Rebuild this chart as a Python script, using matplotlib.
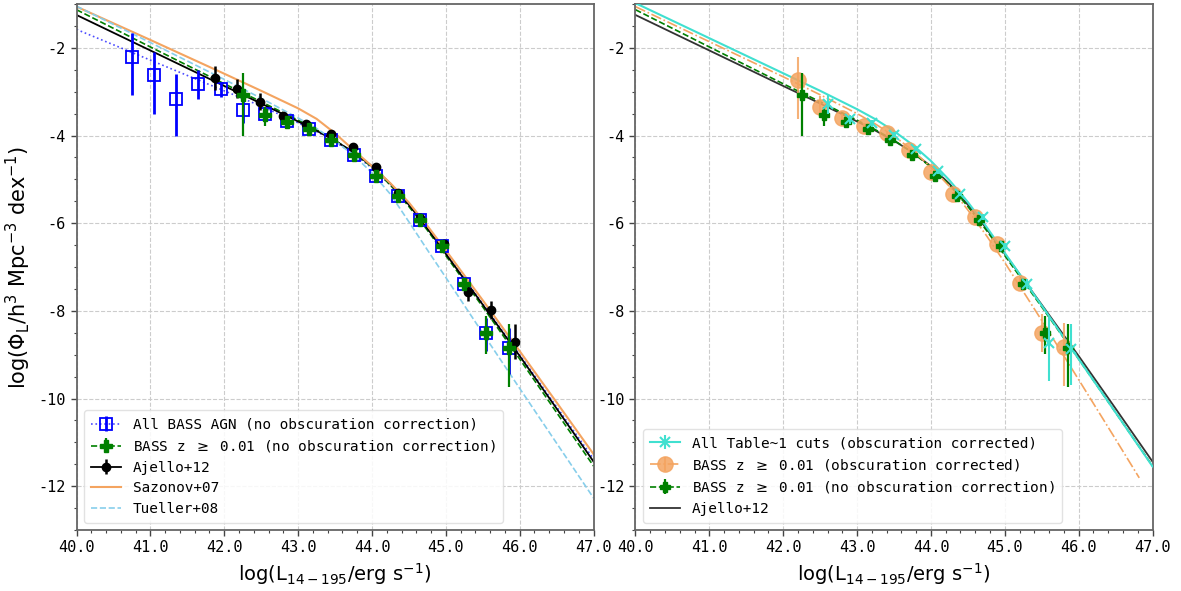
import matplotlib
matplotlib.use("Agg")
import matplotlib.pyplot as plt
from matplotlib.ticker import MultipleLocator, FormatStrFormatter
from matplotlib.legend_handler import HandlerTuple

plt.rcParams['axes.unicode_minus'] = False
plt.rcParams['font.family'] = ['DejaVu Sans Mono', 'DejaVu Sans']
plt.rcParams['mathtext.fontset'] = 'dejavusans'

# ---------------- data ----------------
# model curves (luminosity grid, log Phi)
L_grid = [40.0, 41.0, 42.0, 42.5, 43.0, 43.25, 43.5, 43.75, 44.0, 44.25, 44.5, 44.75, 45.0, 45.5, 46.0, 46.5, 47.0]
ajello_fit = [-1.25, -2.06, -2.87, -3.27, -3.68, -3.89, -4.12, -4.38, -4.70, -5.10, -5.58, -6.12, -6.70, -7.86, -9.03, -10.23, -11.44]
bass_z_fit = [-1.13, -1.98, -2.82, -3.23, -3.65, -3.87, -4.11, -4.39, -4.72, -5.13, -5.62, -6.16, -6.74, -7.91, -9.10, -10.32, -11.54]
bass_all_fit = [-1.58, -2.28, -2.98, -3.33, -3.71, -3.91, -4.14, -4.42, -4.74, -5.13, -5.60, -6.13, -6.68, -7.84, -9.00, -10.19, -11.38]
sazonov_fit = [-1.06, -1.82, -2.59, -2.98, -3.38, -3.62, -3.95, -4.33, -4.70, -5.09, -5.53, -6.06, -6.62, -7.76, -8.92, -10.09, -11.27]
tueller_fit = [-1.05, -1.88, -2.72, -3.15, -3.60, -3.84, -4.12, -4.45, -4.85, -5.34, -5.97, -6.61, -7.24, -8.51, -9.77, -11.02, -12.27]
table1_fit = [-0.98, -1.78, -2.58, -2.98, -3.40, -3.63, -3.90, -4.21, -4.58, -5.02, -5.52, -6.08, -6.68, -7.88, -9.10, -10.32, -11.55]
L_grid_oc = [40.0, 41.0, 42.0, 42.5, 43.0, 43.25, 43.5, 43.75, 44.0, 44.25, 44.5, 44.75, 45.0, 45.5, 46.0, 46.5, 46.82]
bass_z_oc_fit = [-1.06, -1.86, -2.66, -3.07, -3.50, -3.74, -4.01, -4.34, -4.72, -5.16, -5.70, -6.28, -6.90, -8.22, -9.57, -10.93, -11.81]

# All BASS AGN (no obscuration correction)
L_all = [40.75, 41.05, 41.35, 41.65, 41.95, 42.25, 42.55, 42.85, 43.15, 43.45, 43.75, 44.05, 44.35, 44.65, 44.95, 45.25, 45.55, 45.85]
phi_all = [-2.21, -2.62, -3.16, -2.82, -2.93, -3.42, -3.50, -3.67, -3.84, -4.10, -4.44, -4.93, -5.37, -5.92, -6.53, -7.39, -8.51, -8.85]
phi_all_up = [0.54, 0.53, 0.56, 0.31, 0.15, 0.25, 0.12, 0.08, 0.06, 0.05, 0.05, 0.05, 0.05, 0.06, 0.08, 0.12, 0.35, 0.45]
phi_all_lo = [0.87, 0.88, 0.86, 0.35, 0.19, 0.30, 0.15, 0.09, 0.07, 0.05, 0.05, 0.05, 0.05, 0.06, 0.09, 0.14, 0.40, 0.60]

# BASS z >= 0.01 (no obscuration correction)
L_z = [42.25, 42.55, 42.85, 43.15, 43.45, 43.75, 44.05, 44.35, 44.65, 44.95, 45.25, 45.55, 45.85]
phi_z = [-3.08, -3.54, -3.69, -3.84, -4.11, -4.45, -4.93, -5.37, -5.92, -6.53, -7.39, -8.51, -8.85]
phi_z_up = [0.51, 0.19, 0.10, 0.08, 0.06, 0.05, 0.05, 0.05, 0.06, 0.08, 0.10, 0.40, 0.55]
phi_z_lo = [0.92, 0.25, 0.10, 0.08, 0.06, 0.05, 0.05, 0.05, 0.06, 0.08, 0.12, 0.48, 0.89]

# Ajello+12 points
L_aj = [41.87, 42.17, 42.48, 42.79, 43.11, 43.44, 43.74, 44.05, 44.35, 44.65, 44.97, 45.30, 45.61, 45.93]
phi_aj = [-2.69, -2.93, -3.23, -3.56, -3.73, -3.97, -4.26, -4.72, -5.32, -5.88, -6.47, -7.58, -7.98, -8.70]
phi_aj_err = [0.27, 0.21, 0.19, 0.10, 0.07, 0.07, 0.05, 0.05, 0.05, 0.06, 0.08, 0.19, 0.20, 0.40]

# BASS z >= 0.01 (obscuration corrected)
L_oc = [42.20, 42.50, 42.80, 43.10, 43.40, 43.70, 44.00, 44.30, 44.60, 44.90, 45.20, 45.50, 45.80]
phi_oc = [-2.74, -3.35, -3.61, -3.79, -3.95, -4.33, -4.84, -5.33, -5.85, -6.48, -7.36, -8.50, -8.83]
phi_oc_up = [0.52, 0.25, 0.10, 0.08, 0.06, 0.05, 0.05, 0.05, 0.06, 0.08, 0.10, 0.42, 0.55]
phi_oc_lo = [0.89, 0.20, 0.10, 0.08, 0.06, 0.05, 0.05, 0.05, 0.06, 0.08, 0.12, 0.45, 0.88]

# All Table~1 cuts (obscuration corrected)
L_t1 = [42.60, 42.90, 43.20, 43.50, 43.80, 44.10, 44.40, 44.70, 45.00, 45.30, 45.60, 45.90]
phi_t1 = [-3.28, -3.63, -3.72, -3.98, -4.30, -4.82, -5.33, -5.86, -6.53, -7.38, -8.74, -8.86]
phi_t1_up = [0.22, 0.10, 0.08, 0.06, 0.06, 0.05, 0.05, 0.06, 0.08, 0.10, 0.60, 0.57]
phi_t1_lo = [0.22, 0.10, 0.08, 0.06, 0.06, 0.05, 0.05, 0.06, 0.08, 0.12, 0.87, 0.83]

x_ticks = [40, 41, 42, 43, 44, 45, 46, 47]
y_ticks = [-2, -4, -6, -8, -10, -12]

# ---------------- figure ----------------
fig = plt.figure(figsize=(11.81, 5.91), dpi=100)
ax1 = fig.add_axes([0.0648, 0.1032, 0.4378, 0.890])
ax2 = fig.add_axes([0.5381, 0.1032, 0.4378, 0.890])

def style_axes(ax):
    ax.set_xlim(40, 47)
    ax.set_ylim(-13, -1)
    ax.set_xticks(x_ticks)
    ax.set_yticks(y_ticks)
    ax.xaxis.set_major_formatter(FormatStrFormatter('%.1f'))
    ax.yaxis.set_major_formatter(FormatStrFormatter('%d'))
    ax.xaxis.set_minor_locator(MultipleLocator(0.2))
    ax.yaxis.set_minor_locator(MultipleLocator(0.5))
    ax.tick_params(which='major', length=4, width=1, labelsize=11, colors='#444444', labelcolor='black')
    ax.tick_params(which='minor', length=2.5, width=0.8, colors='#444444')
    ax.grid(True, which='major', linestyle='--', color='#cccccc', linewidth=0.8)
    ax.set_axisbelow(True)
    for s in ax.spines.values():
        s.set_color('#666666')
        s.set_linewidth(1.3)
    ax.set_xlabel(r'log(L$_{14-195}$/erg s$^{-1}$)', family='DejaVu Sans', fontsize=14)

# ---- left panel ----
style_axes(ax1)
ax1.set_ylabel(r'log($\Phi_{\rm L}$/h$^3$ Mpc$^{-3}$ dex$^{-1}$)', family='DejaVu Sans', fontsize=15)

l_all, = ax1.plot(L_grid, bass_all_fit, ':', color='blue', lw=1.2, alpha=0.7, zorder=2)
l_z, = ax1.plot(L_grid, bass_z_fit, '--', color='green', lw=1.2, zorder=2)
l_aj, = ax1.plot(L_grid, ajello_fit, '-', color='black', lw=1.3, zorder=2)
l_sz, = ax1.plot(L_grid, sazonov_fit, '-', color='#f4a460', lw=1.5, zorder=2)
l_tu, = ax1.plot(L_grid, tueller_fit, '--', color='skyblue', lw=1.2, zorder=2)

e_all = ax1.errorbar(L_all, phi_all, yerr=[phi_all_lo, phi_all_up], fmt='s', ls='none',
                     mfc='none', mec='blue', mew=1.3, ms=9, ecolor='blue', elinewidth=2, zorder=4)
e_aj = ax1.errorbar(L_aj, phi_aj, yerr=phi_aj_err, fmt='o', ls='none', color='black',
                    ms=6, elinewidth=1.8, zorder=5)
e_z = ax1.errorbar(L_z, phi_z, yerr=[phi_z_lo, phi_z_up], fmt='P', ls='none', color='green',
                   ms=8, elinewidth=1.6, zorder=6)

h1 = [(l_all, e_all), (l_z, e_z), (l_aj, e_aj), l_sz, l_tu]
t1 = ['All BASS AGN (no obscuration correction)',
      r'BASS z $\geq$ 0.01 (no obscuration correction)',
      'Ajello+12', 'Sazonov+07', 'Tueller+08']
ax1.legend(h1, t1, loc='lower left', fontsize=10.4, handler_map={tuple: HandlerTuple(ndivide=1)},
           framealpha=0.85, edgecolor='#dddddd', handlelength=2.1, borderpad=0.5, labelspacing=0.45)

# ---- right panel ----
style_axes(ax2)

r_aj, = ax2.plot(L_grid, ajello_fit, '-', color='#333333', lw=1.3, zorder=2)
r_z, = ax2.plot(L_grid, bass_z_fit, '--', color='green', lw=1.2, zorder=2)
r_oc, = ax2.plot(L_grid_oc, bass_z_oc_fit, '-.', color='#f4a460', lw=1.2, zorder=2)
r_t1, = ax2.plot(L_grid, table1_fit, '-', color='turquoise', lw=1.5, zorder=3)

e_oc = ax2.errorbar(L_oc, phi_oc, yerr=[phi_oc_lo, phi_oc_up], fmt='o', ls='none', color='#f4a460',
                    alpha=0.85, ms=11, elinewidth=1.5, zorder=4)
e_z2 = ax2.errorbar(L_z, phi_z, yerr=[phi_z_lo, phi_z_up], fmt='P', ls='none', color='green',
                    ms=7, elinewidth=1.6, zorder=5)
e_t1 = ax2.errorbar(L_t1, phi_t1, yerr=[phi_t1_lo, phi_t1_up], fmt='x', ls='none', color='turquoise',
                    ms=7, mew=1.5, elinewidth=1.5, zorder=6)

h2 = [(r_t1, e_t1), (r_oc, e_oc), (r_z, e_z2), r_aj]
t2 = ['All Table~1 cuts (obscuration corrected)',
      r'BASS z $\geq$ 0.01 (obscuration corrected)',
      r'BASS z $\geq$ 0.01 (no obscuration correction)',
      'Ajello+12']
ax2.legend(h2, t2, loc='lower left', fontsize=10.4, handler_map={tuple: HandlerTuple(ndivide=1)},
           framealpha=0.85, edgecolor='#dddddd', handlelength=2.1, borderpad=0.5, labelspacing=0.45)

fig.savefig('out.png', dpi=100)
